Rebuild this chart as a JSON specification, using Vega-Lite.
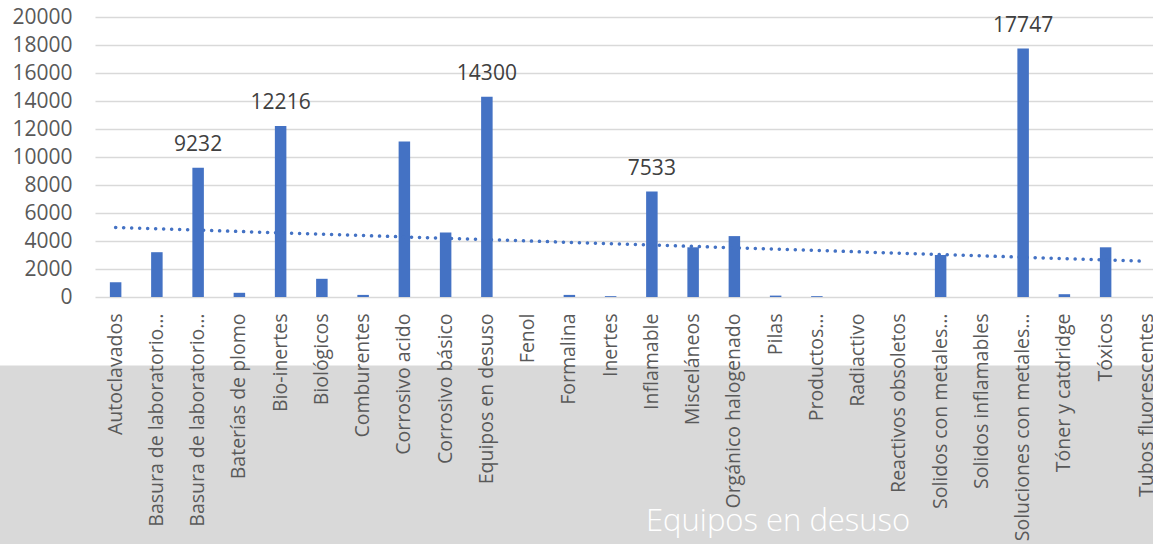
{
  "$schema": "https://vega.github.io/schema/vega-lite/v6.json",
  "autosize": {"type": "none"},
  "width": 1058,
  "height": 280,
  "padding": {"left": 95, "top": 17, "right": 0, "bottom": 247},
  "background": "white",
  "config": {
    "view": {"stroke": null},
    "font": "Open Sans",
    "axis": {"labelFont": "Open Sans", "titleFont": "Open Sans"},
    "axisY": {
      "labelFontSize": 21,
      "labelColor": "#595959",
      "labelPadding": 23,
      "labelOverlap": false,
      "ticks": false,
      "domain": false,
      "grid": true,
      "gridColor": "#d9d9d9",
      "gridWidth": 1.5
    }
  },
  "title": {
    "text": "Equipos en desuso",
    "orient": "bottom",
    "anchor": "start",
    "frame": "group",
    "dx": 551,
    "offset": -14,
    "baseline": "alphabetic",
    "color": "white",
    "fontSize": 31,
    "fontWeight": 300,
    "font": "Open Sans"
  },
  "data": {
    "values": [
      {"categoria": "Autoclavados", "valor": 1050, "rotulo": null},
      {"categoria": "Basura de laboratorio… (1)", "valor": 3200, "rotulo": null},
      {"categoria": "Basura de laboratorio… (2)", "valor": 9232, "rotulo": 9232},
      {"categoria": "Baterías de plomo", "valor": 300, "rotulo": null},
      {"categoria": "Bio-inertes", "valor": 12216, "rotulo": 12216},
      {"categoria": "Biológicos", "valor": 1300, "rotulo": null},
      {"categoria": "Comburentes", "valor": 150, "rotulo": null},
      {"categoria": "Corrosivo acido", "valor": 11100, "rotulo": null},
      {"categoria": "Corrosivo básico", "valor": 4600, "rotulo": null},
      {"categoria": "Equipos en desuso", "valor": 14300, "rotulo": 14300},
      {"categoria": "Fenol", "valor": 0, "rotulo": null},
      {"categoria": "Formalina", "valor": 150, "rotulo": null},
      {"categoria": "Inertes", "valor": 60, "rotulo": null},
      {"categoria": "Inflamable", "valor": 7533, "rotulo": 7533},
      {"categoria": "Misceláneos", "valor": 3550, "rotulo": null},
      {"categoria": "Orgánico halogenado", "valor": 4350, "rotulo": null},
      {"categoria": "Pilas", "valor": 100, "rotulo": null},
      {"categoria": "Productos…", "valor": 60, "rotulo": null},
      {"categoria": "Radiactivo", "valor": 0, "rotulo": null},
      {"categoria": "Reactivos obsoletos", "valor": 0, "rotulo": null},
      {"categoria": "Solidos con metales…", "valor": 3000, "rotulo": null},
      {"categoria": "Solidos inflamables", "valor": 0, "rotulo": null},
      {"categoria": "Soluciones con metales…", "valor": 17747, "rotulo": 17747},
      {"categoria": "Tóner y catdridge", "valor": 200, "rotulo": null},
      {"categoria": "Tóxicos", "valor": 3550, "rotulo": null},
      {"categoria": "Tubos fluorescentes", "valor": 0, "rotulo": null}
    ]
  },
  "resolve": {"scale": {"x": "independent"}},
  "layer": [
    {
      "layer": [
        {
          "mark": {"type": "bar", "color": "#4472C4", "width": {"band": 0.31}},
          "encoding": {
            "x": {
              "field": "categoria",
              "type": "nominal",
              "sort": null,
              "scale": {"range": [0, 1072.5], "paddingInner": 0.1, "paddingOuter": 0.05},
              "axis": {
                "title": null,
                "labelAngle": -90,
                "labelFontSize": 19.5,
                "labelColor": "#595959",
                "labelPadding": 16,
                "labelLimit": 0,
                "labelOverlap": false,
                "labelExpr": "replace(replace(datum.label, ' (1)', ''), ' (2)', '')",
                "ticks": false,
                "domain": false,
                "grid": false,
                "zindex": 1
              }
            },
            "y": {
              "field": "valor",
              "type": "quantitative",
              "scale": {"domain": [0, 20000], "nice": false},
              "axis": {"title": null, "values": [0, 2000, 4000, 6000, 8000, 10000, 12000, 14000, 16000, 18000, 20000], "format": "d", "labelOverlap": false, "labelFontSize": 21, "labelColor": "#595959", "labelPadding": 23}
            }
          }
        },
        {
          "mark": {"type": "text", "color": "#404040", "fontSize": 21, "baseline": "alphabetic", "dy": -17, "font": "Open Sans"},
          "encoding": {
            "x": {"field": "categoria", "type": "nominal", "sort": null},
            "y": {"field": "valor", "type": "quantitative", "axis": {"title": null, "values": [0, 2000, 4000, 6000, 8000, 10000, 12000, 14000, 16000, 18000, 20000], "format": "d", "labelOverlap": false, "labelFontSize": 21, "labelColor": "#595959", "labelPadding": 23}},
            "text": {"condition": {"test": "isValid(datum.rotulo)", "field": "rotulo"}, "value": ""}
          }
        }
      ]
    },
    {
      "transform": [
        {"window": [{"op": "row_number", "as": "n"}]},
        {"regression": "valor", "on": "n"}
      ],
      "mark": {"type": "line", "color": "#4472C4", "strokeWidth": 3.5, "strokeDash": [0.1, 7.9], "strokeCap": "round"},
      "encoding": {
        "x": {"field": "n", "type": "quantitative", "scale": {"domain": [0.5, 26.5], "range": [0, 1072.5]}, "axis": null},
        "y": {"field": "valor", "type": "quantitative", "axis": {"title": null, "values": [0, 2000, 4000, 6000, 8000, 10000, 12000, 14000, 16000, 18000, 20000], "format": "d", "labelOverlap": false, "labelFontSize": 21, "labelColor": "#595959", "labelPadding": 23}}
      }
    },
    {
      "data": {"values": [{}]},
      "mark": {"type": "rect", "color": "#d9d9d9"},
      "encoding": {
        "x": {"datum": -3, "type": "quantitative", "scale": {"domain": [0.5, 26.5], "range": [0, 1072.5]}, "axis": null},
        "x2": {"datum": 30},
        "y": {"datum": -4890, "type": "quantitative", "scale": {"domain": [0, 20000], "nice": false}, "axis": {"title": null, "values": [0, 2000, 4000, 6000, 8000, 10000, 12000, 14000, 16000, 18000, 20000], "format": "d", "labelOverlap": false, "labelFontSize": 21, "labelColor": "#595959", "labelPadding": 23}},
        "y2": {"datum": -17700}
      }
    }
  ]
}
